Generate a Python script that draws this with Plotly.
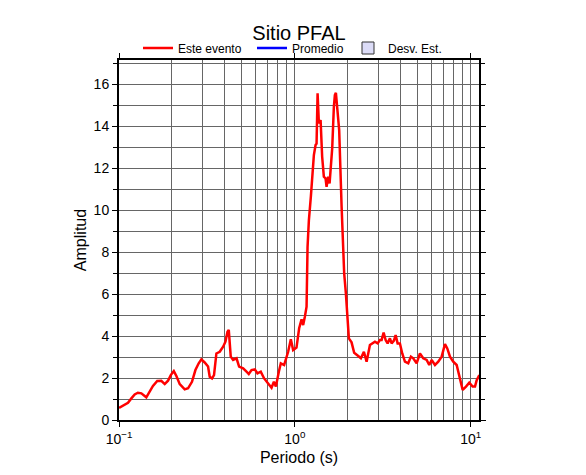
import plotly.graph_objects as go

# Period (s) and amplitude of "Este evento"
periodo = [0.100, 0.105, 0.1125, 0.1176, 0.1228, 0.128, 0.134, 0.143, 0.1495, 0.156,
           0.165, 0.174, 0.182, 0.190, 0.197, 0.205, 0.212, 0.2215, 0.2365, 0.247,
           0.260, 0.272, 0.284, 0.294, 0.307, 0.321, 0.328, 0.338, 0.347, 0.358,
           0.374, 0.391, 0.403, 0.414, 0.421, 0.432, 0.4455, 0.466, 0.482, 0.508,
           0.531, 0.547, 0.567, 0.592, 0.613, 0.640, 0.669, 0.705, 0.737, 0.760,
           0.780, 0.811, 0.832, 0.869, 0.916, 0.949, 0.978, 1.022, 1.058, 1.092,
           1.115, 1.140, 1.166, 1.181, 1.202, 1.233, 1.254, 1.283, 1.312, 1.329,
           1.347, 1.370, 1.401, 1.430, 1.462, 1.495, 1.515, 1.547, 1.576, 1.603,
           1.631, 1.667, 1.689, 1.712, 1.740, 1.787, 1.845, 1.908, 1.951, 2.029,
           2.102, 2.175, 2.293, 2.375, 2.470, 2.559, 2.673, 2.754, 2.854, 2.957,
           3.047, 3.115, 3.198, 3.283, 3.370, 3.473, 3.551, 3.660, 3.742, 3.842,
           3.959, 4.081, 4.228, 4.415, 4.573, 4.713, 4.928, 5.145, 5.373, 5.618,
           5.813, 5.998, 6.264, 6.541, 6.839, 7.141, 7.360, 7.625, 7.961, 8.323,
           8.612, 9.005, 9.404, 9.817, 10.26, 10.58, 10.82, 11.05, 11.2]
amplitud = [0.58, 0.67, 0.82, 1.03, 1.22, 1.30, 1.27, 1.08, 1.35, 1.62,
            1.86, 1.87, 1.71, 1.87, 2.14, 2.33, 2.10, 1.71, 1.46, 1.51,
            1.82, 2.38, 2.70, 2.89, 2.74, 2.55, 2.06, 1.98, 2.14, 3.17,
            3.25, 3.49, 3.73, 4.20, 4.29, 3.02, 2.86, 2.94, 2.54, 2.46,
            2.30, 2.19, 2.38, 2.41, 2.22, 2.30, 1.98, 1.71, 1.54, 1.82,
            1.59, 2.30, 2.70, 2.62, 3.25, 3.85, 3.33, 3.45, 4.37, 4.79,
            4.52, 4.92, 5.40, 8.25, 9.52, 10.63, 11.75, 12.62, 13.10, 13.17,
            15.56, 14.13, 14.29, 12.54, 11.59, 11.51, 11.11, 11.59, 11.27, 12.06,
            12.94, 14.92, 15.48, 15.59, 14.92, 13.81, 10.16, 6.98, 6.03, 3.89,
            3.70, 3.20, 3.05, 2.94, 3.25, 2.78, 3.57, 3.65, 3.73, 3.65,
            3.81, 3.81, 4.16, 3.81, 3.65, 3.89, 3.65, 3.78, 4.05, 3.65,
            3.65, 3.17, 2.78, 2.70, 3.02, 2.94, 2.70, 3.17, 2.94, 2.86,
            2.62, 2.86, 2.62, 2.78, 3.02, 3.62, 3.41, 3.02, 2.78, 2.62,
            2.06, 1.43, 1.59, 1.78, 1.59, 1.59, 1.90, 2.06, 2.14]

x_tickvals = [0.1, 1, 10]
x_ticktext = ["10<sup>\u22121</sup>", "10<sup>0</sup>", "10<sup>1</sup>"]
x_minor = [k * 10.0 ** e for e in (-1, 0, 1) for k in range(2, 10) if k * 10.0 ** e < 11.15]

FONT = "Liberation Sans, Arial, Helvetica, sans-serif"

# page has an 8px body margin; figure sized so it fits in the window
W, H = 578, 467
L, T = 111, 52
PW, PH = 360, 360
R, B = W - L - PW, H - T - PH


def px_to_paper_x(px):
    return (px - L) / PW


def px_to_paper_y(py):
    return (H - B - py) / PH


fig = go.Figure()
fig.add_trace(go.Scatter(x=periodo, y=amplitud, mode="lines", name="Este evento",
                         line=dict(color="#ff0000", width=2.5), legend="legend"))
fig.add_trace(go.Scatter(x=[None], y=[None], mode="lines", name="Promedio",
                         line=dict(color="#0000ff", width=2.5), legend="legend2"))
fig.add_trace(go.Scatter(x=[None], y=[None], mode="markers", name="Desv. Est.",
                         marker=dict(symbol="square", size=12, color="#dcdcf7",
                                     line=dict(color="#333333", width=1)),
                         legend="legend3"))

leg_common = dict(orientation="h", xanchor="left", yanchor="middle",
                  font=dict(size=12, family=FONT), bgcolor="rgba(0,0,0,0)",
                  borderwidth=0, itemwidth=30)

fig.update_layout(
    width=W, height=H,
    margin=dict(l=L, r=R, t=T, b=B, autoexpand=False),
    paper_bgcolor="white", plot_bgcolor="white",
    font=dict(family=FONT, color="black", size=13),
    title=dict(text="Sitio PFAL", x=0.5, xref="paper", xanchor="center",
               y=1 - 25 / H, yref="container", yanchor="middle",
               font=dict(size=20, family=FONT)),
    legend=dict(x=px_to_paper_x(130), y=px_to_paper_y(40), **leg_common),
    legend2=dict(x=px_to_paper_x(244), y=px_to_paper_y(40), **leg_common),
    legend3=dict(x=px_to_paper_x(340), y=px_to_paper_y(40), **leg_common),
    showlegend=True,
)

fig.update_xaxes(
    type="log", range=[-1, 1.0473],
    tickvals=x_tickvals, ticktext=x_ticktext,
    ticks="outside", ticklen=5, tickwidth=1, tickcolor="black",
    showline=True, linecolor="black", linewidth=2, mirror="ticks",
    showgrid=True, gridcolor="#666666", gridwidth=1,
    minor=dict(tickvals=x_minor, showgrid=True, gridcolor="#666666", gridwidth=1, ticks=""),
    tickfont=dict(size=14),
    title=dict(text="Periodo (s)", font=dict(size=16), standoff=6),
    zeroline=False, automargin=False,
)
fig.update_yaxes(
    range=[0, 17.15], dtick=2, tick0=0,
    ticks="outside", ticklen=5, tickwidth=1, tickcolor="black",
    showline=True, linecolor="black", linewidth=2, mirror="ticks",
    showgrid=True, gridcolor="#666666", gridwidth=1,
    minor=dict(dtick=1, showgrid=True, gridcolor="#666666", gridwidth=1,
               ticks="outside", ticklen=4, tickcolor="black"),
    tickfont=dict(size=14),
    title=dict(text="Amplitud", font=dict(size=16), standoff=3),
    zeroline=False, automargin=False,
)

fig.write_html("out.html")
